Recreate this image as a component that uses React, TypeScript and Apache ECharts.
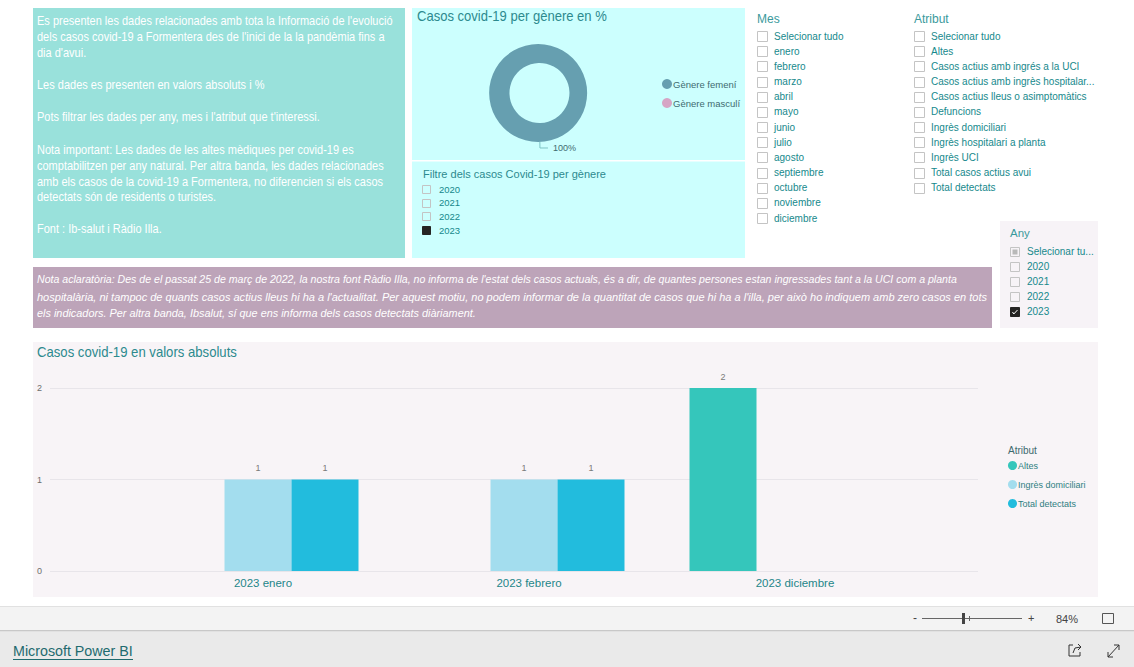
import React, { useEffect, useRef } from "react";
import * as echarts from "echarts";

const W = 1134;
const H = 667;
const FONT = '"Liberation Sans", Arial, sans-serif';

// ---------- data ----------
const categories = ["2023 enero", "2023 febrero", "2023 diciembre"];
const seriesNames = ["Altes", "Ingrès domiciliari", "Total detectats"];
const altes = [null, null, 2];
const ingresDomiciliari = [1, 1, null];
const totalDetectats = [1, 1, null];
const yMin = 0;
const yMax = 2;
const yInterval = 1;

const genderNames = ["Gènere femení", "Gènere masculí"];
const genderValues = [100, 0];
const genderYears = ["2020", "2021", "2022", "2023"];
const genderYearChecked = [false, false, false, true];

const months = [
  "Selecionar tudo", "enero", "febrero", "marzo", "abril", "mayo", "junio",
  "julio", "agosto", "septiembre", "octubre", "noviembre", "diciembre",
];
const attributes = [
  "Selecionar tudo", "Altes", "Casos actius amb ingrés a la UCI",
  "Casos actius amb ingrès hospitalar...", "Casos actius lleus o asimptomàtics",
  "Defuncions", "Ingrès domiciliari", "Ingrès hospitalari a planta", "Ingrès UCI",
  "Total casos actius avui", "Total detectats",
];
const anyItems = ["Selecionar tu...", "2020", "2021", "2022", "2023"];
const anyState = ["partial", "off", "off", "off", "on"];

const introLines = [
  "Es presenten les dades relacionades amb tota la Informació de l'evolució",
  "dels casos covid-19 a Formentera des de l'inici de la la pandèmia fins a",
  "dia d'avui.",
  "",
  "Les dades es presenten en valors absoluts i %",
  "",
  "Pots filtrar les dades per any, mes i l'atribut que t'interessi.",
  "",
  "Nota important: Les dades de les altes mèdiques per covid-19 es",
  "comptabilitzen per any natural. Per altra banda, les dades relacionades",
  "amb els casos de la covid-19 a Formentera, no diferencien si els casos",
  "detectats són de residents o turistes.",
  "",
  "Font : Ib-salut i Ràdio Illa.",
];
const introY = [20, 36, 52, 0, 84, 0, 116, 0, 149, 165, 181, 196, 0, 228];

const noteLines = [
  "Nota aclaratòria: Des de el passat 25 de març de 2022, la nostra font Ràdio Illa, no informa de l'estat dels casos actuals, és a dir, de quantes persones estan ingressades tant a la UCI com a planta",
  "hospitalària, ni tampoc de quants casos actius lleus hi ha a l'actualitat. Per aquest motiu, no podem informar de la quantitat de casos que hi ha a l'illa, per això ho indiquem amb zero casos en tots",
  "els indicadors. Per altra banda, Ibsalut, sí que ens informa dels casos detectats diàriament.",
];
const noteWidths = [920, 951, 439];
const noteY = [279, 297, 313];

// ---------- colours ----------
const TEAL_PANEL = "#99E1DB";
const CYAN_PANEL = "#CCFFFE";
const MAUVE_PANEL = "#BDA4B9";
const LIGHT_PANEL = "#F8F4F7";
const ITEM = "#16898C";
const HEAD = "#3A9A9C";
const COL_ALTES = "#35C6BB";
const COL_DOM = "#A3DDEE";
const COL_TOT = "#22BCDD";

function measure(text: string, font: string): number {
  const c = document.createElement("canvas").getContext("2d");
  if (!c) return text.length * 6;
  c.font = font;
  return c.measureText(text).width;
}

function txt(x: number, y: number, text: string, size: number, fill: string, extra: any = {}) {
  const { scaleX, ...style } = extra;
  return {
    type: "text",
    x,
    y,
    z: 20,
    silent: true,
    scaleX: scaleX ?? 1,
    style: {
      text,
      fill,
      fontSize: size,
      fontFamily: FONT,
      verticalAlign: "middle",
      align: "left",
      ...style,
    },
  };
}

function rect(x: number, y: number, w: number, h: number, fill: string, z = -10) {
  return {
    type: "rect",
    z,
    silent: true,
    shape: { x, y, width: w, height: h },
    style: { fill },
  };
}

function checkbox(x: number, cy: number, size: number, state: string) {
  const els: any[] = [];
  const y = Math.round(cy - size / 2) + 0.5;
  if (state === "on" || state === "filled") {
    els.push({
      type: "rect", z: 20, silent: true,
      shape: { x: x + 0.5, y, width: size, height: size },
      style: { fill: "#252423", stroke: "#252423", lineWidth: 1 },
    });
    if (state === "on") {
      els.push({
        type: "polyline", z: 21, silent: true,
        shape: { points: [[x + 2.5, y + size * 0.5], [x + size * 0.42, y + size - 2.5], [x + size - 1.5, y + 2.5]] },
        style: { stroke: "#FFFFFF", lineWidth: 1, fill: "none" },
      });
    }
  } else {
    els.push({
      type: "rect", z: 20, silent: true,
      shape: { x: x + 0.5, y, width: size, height: size },
      style: { fill: "none", stroke: "#C4C4C4", lineWidth: 1 },
    });
    if (state === "partial") {
      els.push({
        type: "rect", z: 21, silent: true,
        shape: { x: x + 2.5, y: y + 2, width: size - 4, height: size - 4 },
        style: { fill: "#B9B9B9" },
      });
    }
  }
  return els;
}

function buildOption() {
  const g: any[] = [];

  // panels
  g.push(rect(33, 8, 372, 250, TEAL_PANEL));
  g.push(rect(412, 8, 333, 250, CYAN_PANEL));
  g.push(rect(412, 160, 333, 1.5, "#FFFFFF", -5));
  g.push(rect(1000, 221, 98, 107, "#F7F3F7"));
  g.push(rect(33, 267, 959, 61, MAUVE_PANEL));
  g.push(rect(33, 342, 1065, 255, LIGHT_PANEL));

  // intro paragraph
  const introFont = `12.5px ${FONT}`;
  const introScale = 356 / measure(introLines[0], introFont);
  introLines.forEach((line, i) => {
    if (!line) return;
    g.push(txt(37, introY[i], line, 12.5, "#FFFFFF", { scaleX: introScale }));
  });

  // donut titles
  const t1 = "Casos covid-19 per gènere en %";
  g.push(txt(417, 16, t1, 14, "#2C8A8E", { scaleX: 190 / measure(t1, `14px ${FONT}`) }));
  const t2 = "Filtre dels casos Covid-19 per gènere";
  g.push(txt(423, 174, t2, 11.5, "#2C8A8E", { scaleX: 183 / measure(t2, `11.5px ${FONT}`) }));
  genderYears.forEach((yr, i) => {
    const cy = 189 + i * 13.7;
    g.push(...checkbox(422, cy, 8, genderYearChecked[i] ? "filled" : "off"));
    g.push(txt(439, cy, yr, 9.5, ITEM));
  });

  // Mes slicer
  g.push(txt(757, 19, "Mes", 12, HEAD));
  months.forEach((m, i) => {
    const cy = 36 + i * 15.17;
    g.push(...checkbox(757, cy, 10, "off"));
    g.push(txt(774, cy, m, 10, ITEM));
  });
  // Atribut slicer
  g.push(txt(914, 19, "Atribut", 12, HEAD));
  attributes.forEach((a, i) => {
    const cy = 36 + i * 15.17;
    g.push(...checkbox(914, cy, 10, "off"));
    g.push(txt(931, cy, a, 10, ITEM));
  });
  // Any slicer
  g.push(txt(1010, 233, "Any", 11.5, HEAD));
  anyItems.forEach((a, i) => {
    const cy = 251 + i * 15;
    g.push(...checkbox(1010, cy, 9, anyState[i]));
    g.push(txt(1027, cy, a, 10, ITEM));
  });

  // note panel
  const noteFont = `italic 11.5px ${FONT}`;
  noteLines.forEach((line, i) => {
    const sc = noteWidths[i] / measure(line, noteFont);
    g.push(txt(37, noteY[i], line, 11.5, "#FFFFFF", { scaleX: sc, fontStyle: "italic" }));
  });

  // bar chart title + legend title
  const t3 = "Casos covid-19 en valors absoluts";
  g.push(txt(37, 352, t3, 14, "#2C8A8E", { scaleX: 200 / measure(t3, `14px ${FONT}`) }));
  g.push(txt(1008, 450, "Atribut", 10, "#3E6A6E"));

  // bottom power bi bar
  g.push(rect(0, 606, W, 24, "#F3F3F3"));
  g.push(rect(0, 606, W, 1, "#E1E1E1", -5));
  g.push(rect(0, 630, W, 37, "#EAEAEA"));
  g.push(rect(0, 630, W, 1.2, "#C8C8C8", -5));
  g.push(txt(913, 618, "-", 12, "#444444"));
  g.push({ type: "line", z: 20, silent: true, shape: { x1: 922, y1: 618.5, x2: 1022, y2: 618.5 }, style: { stroke: "#666666", lineWidth: 1 } });
  g.push(rect(962, 613, 3, 11, "#444444", 21));
  g.push({ type: "line", z: 20, silent: true, shape: { x1: 969.5, y1: 616, x2: 969.5, y2: 621 }, style: { stroke: "#666666", lineWidth: 1 } });
  g.push(txt(1028, 618, "+", 11, "#444444"));
  g.push(txt(1056, 619, "84%", 11, "#444444"));
  g.push({ type: "rect", z: 20, silent: true, shape: { x: 1102.5, y: 613.5, width: 11, height: 10 }, style: { fill: "none", stroke: "#555555", lineWidth: 1 } });
  const pbi = "Microsoft Power BI";
  g.push(txt(13, 651, pbi, 14, "#1F6B6F", { scaleX: 120 / measure(pbi, `14px ${FONT}`) }));
  g.push({ type: "line", z: 20, silent: true, shape: { x1: 13, y1: 659.5, x2: 133, y2: 659.5 }, style: { stroke: "#1F6B6F", lineWidth: 1 } });
  // share icon
  g.push({ type: "polyline", z: 20, silent: true, shape: { points: [[1073, 645], [1069, 645], [1069, 656], [1080, 656], [1080, 652]] }, style: { stroke: "#333", lineWidth: 1, fill: "none" } });
  g.push({ type: "polyline", z: 20, silent: true, shape: { points: [[1073, 653], [1075, 648], [1081, 647]] }, style: { stroke: "#333", lineWidth: 1, fill: "none" } });
  g.push({ type: "polyline", z: 20, silent: true, shape: { points: [[1078, 644], [1081, 647], [1078, 650]] }, style: { stroke: "#333", lineWidth: 1, fill: "none" } });
  // expand icon
  g.push({ type: "line", z: 20, silent: true, shape: { x1: 1108, y1: 657, x2: 1119, y2: 645 }, style: { stroke: "#333", lineWidth: 1 } });
  g.push({ type: "polyline", z: 20, silent: true, shape: { points: [[1114, 645], [1119, 645], [1119, 650]] }, style: { stroke: "#333", lineWidth: 1, fill: "none" } });
  g.push({ type: "polyline", z: 20, silent: true, shape: { points: [[1108, 652], [1108, 657], [1113, 657]] }, style: { stroke: "#333", lineWidth: 1, fill: "none" } });

  const barLabel = {
    show: true,
    position: "top",
    distance: 7,
    color: "#7A7A7A",
    fontSize: 9,
    fontFamily: FONT,
  };
  const barBase = {
    type: "bar",
    xAxisIndex: 1,
    yAxisIndex: 1,
    barWidth: 67,
    barGap: "0%",
    label: barLabel,
    emphasis: { disabled: true },
  };

  return {
    animation: false,
    backgroundColor: "#FFFFFF",
    textStyle: { fontFamily: FONT },
    graphic: { elements: g },
    legend: [
      {
        data: genderNames,
        left: 657,
        top: 74,
        orient: "vertical",
        icon: "circle",
        itemWidth: 10,
        itemHeight: 10,
        itemGap: 9,
        selectedMode: false,
        textStyle: { fontSize: 9.5, color: "#3F6B70", fontFamily: FONT, padding: [0, 0, 0, -4] },
      },
      {
        data: seriesNames,
        left: 1003,
        top: 456,
        orient: "vertical",
        icon: "circle",
        itemWidth: 9,
        itemHeight: 9,
        itemGap: 10,
        selectedMode: false,
        textStyle: { fontSize: 9, color: "#2E7F82", fontFamily: FONT, padding: [0, 0, 0, -4] },
      },
    ],
    grid: [
      { left: 50, top: 388, width: 928, height: 183 },
      { left: 125, top: 388, width: 798, height: 183 },
    ],
    xAxis: [
      { type: "value", gridIndex: 0, show: false, min: 0, max: 1 },
      {
        type: "category",
        gridIndex: 1,
        data: categories,
        axisLine: { show: false },
        axisTick: { show: false },
        axisLabel: { color: "#1E8689", fontSize: 11.5, margin: 6, fontFamily: FONT, padding: [0, 0, 0, 10] },
      },
    ],
    yAxis: [
      {
        type: "value",
        gridIndex: 0,
        min: yMin,
        max: yMax,
        interval: yInterval,
        axisLine: { show: false },
        axisTick: { show: false },
        axisLabel: { color: "#6E6E6E", fontSize: 9, margin: 8, fontFamily: FONT },
        splitLine: { lineStyle: { color: "#E8E5EA", width: 1 } },
      },
      { type: "value", gridIndex: 1, min: yMin, max: yMax, show: false },
    ],
    series: [
      {
        type: "pie",
        name: "Gènere",
        center: [539, 93],
        radius: [30, 49],
        startAngle: 91,
        clockwise: true,
        avoidLabelOverlap: false,
        emphasis: { disabled: true },
        label: {
          show: true,
          position: "outside",
          formatter: "{d}%",
          fontSize: 9,
          color: "#3F6B70",
          fontFamily: FONT,
        },
        labelLine: { show: true, length: 6, length2: 8, lineStyle: { color: "#7DC3C5", width: 1 } },
        data: genderNames.map((n, i) => ({
          name: n,
          value: genderValues[i],
          itemStyle: { color: i === 0 ? "#669FB0" : "#D6A5C5" },
          ...(genderValues[i] === 0 ? { label: { show: false }, labelLine: { show: false } } : {}),
        })),
      },
      { ...barBase, name: seriesNames[0], data: altes, itemStyle: { color: COL_ALTES } },
      { ...barBase, name: seriesNames[1], data: ingresDomiciliari, itemStyle: { color: COL_DOM } },
      { ...barBase, name: seriesNames[2], data: totalDetectats, itemStyle: { color: COL_TOT } },
    ],
  };
}

export default function App() {
  const ref = useRef<HTMLDivElement>(null);
  useEffect(() => {
    if (!ref.current) return;
    const chart = echarts.init(ref.current, null, { renderer: "svg", width: W, height: H });
    chart.setOption(buildOption() as any);
    return () => chart.dispose();
  }, []);
  return (
    <div
      ref={ref}
      style={{ position: "fixed", left: 0, top: 0, width: W, height: H, background: "#FFFFFF" }}
    />
  );
}
